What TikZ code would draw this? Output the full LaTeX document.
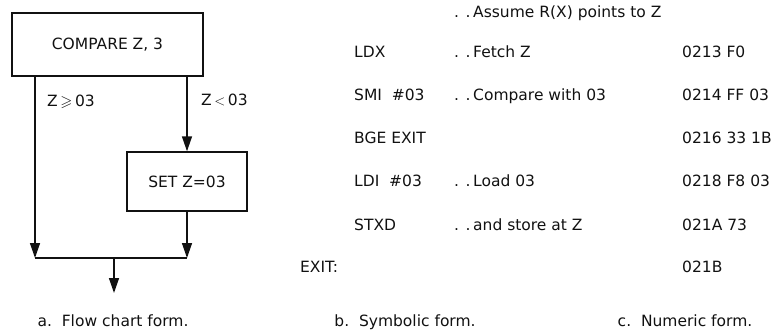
\documentclass[tikz,border=0pt]{standalone}
\usepackage{amsmath, amssymb}
\usepackage{fontspec}
\setmainfont{DejaVu Sans}
\usepackage{tikz}
\usetikzlibrary{positioning, arrows.meta, calc}
\definecolor{ink}{HTML}{111111}

\tikzset{
  txt/.style={font=\fontsize{15.5}{18}\selectfont, color=ink},
  stepbox/.style={txt, draw=ink, line width=1.4pt, inner sep=0pt},
  flow/.style={draw=ink, line width=1.4pt, -{Triangle[length=15pt, width=10pt]}},
  code/.style={txt, anchor=west, inner sep=0pt, text height=11pt, text depth=0pt},
  caption/.style={txt, inner sep=0pt, text height=11pt, text depth=0pt}
}

\begin{document}
\begin{tikzpicture}[x=1pt, y=1pt]
    \useasboundingbox (0,0) rectangle (776,333);
    % a. flow chart
    \node[stepbox, minimum width=191pt, minimum height=63pt] (compare) at (107.5,288.5) {COMPARE Z, 3};
    \node[stepbox, minimum width=120pt, minimum height=59pt] (setz) at (187,151.5) {SET Z=03};
    \coordinate (jl) at (35,75);
    \coordinate (jr) at (187,75);
    \coordinate (jm) at (114,75);
    \coordinate (out) at (114,40);
    \draw[flow] (compare.south -| jl) -- (jl);
    \draw[flow] (compare.south -| setz.north) -- (setz.north);
    \draw[flow] (setz.south) -- (jr);
    \draw[ink, line width=1.4pt] (jl) -- (jr);
    \draw[flow] (jm) -- (out);
    \node[code] (ge) at (47,232) {Z\,$\geqslant$\,03};
    \node[code] (lt) at (201,233) {Z\,$<$\,03};
    % b. symbolic form and c. numeric form
    \node[code] (note0) at (454,321) {. .\,Assume R(X) points to Z};
    \node[code] (op1) at (354,281) {LDX};
    \node[code] (note1) at (454,281) {. .\,Fetch Z};
    \node[code] (hex1) at (682,281) {0213 F0};
    \node[code] (op2) at (354,238) {SMI\ \ \#03};
    \node[code] (note2) at (454,238) {. .\,Compare with 03};
    \node[code] (hex2) at (682,238) {0214 FF 03};
    \node[code] (op3) at (354,195) {BGE EXIT};
    \node[code] (hex3) at (682,195) {0216 33 1B};
    \node[code] (op4) at (354,152) {LDI\ \ \#03};
    \node[code] (note4) at (454,152) {. .\,Load 03};
    \node[code] (hex4) at (682,152) {0218 F8 03};
    \node[code] (op5) at (354,108) {STXD};
    \node[code] (note5) at (454,108) {. .\,and store at Z};
    \node[code] (hex5) at (682,108) {021A 73};
    \node[code] (exit) at (300,66) {EXIT:};
    \node[code] (hex6) at (682,66) {021B};
    % captions
    \node[caption] (capa) at (113,12) {a.\ \ Flow chart form.};
    \node[caption] (capb) at (405,12) {b.\ \ Symbolic form.};
    \node[caption] (capc) at (685,12) {c.\ \ Numeric form.};
  \end{tikzpicture}
\end{document}
